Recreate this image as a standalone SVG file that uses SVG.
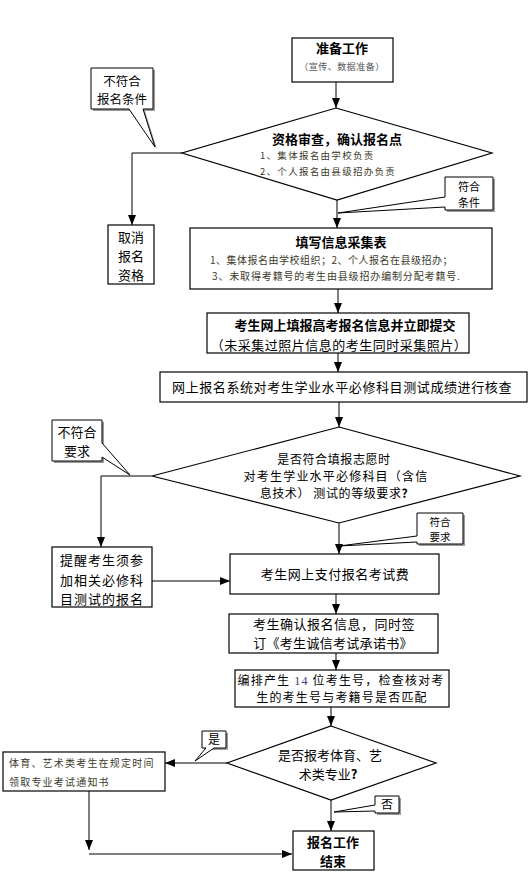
<svg xmlns="http://www.w3.org/2000/svg" width="530" height="876" viewBox="0 0 530 876">
<defs>
<marker id="ah" markerWidth="10" markerHeight="8" refX="10" refY="4" orient="auto" markerUnits="userSpaceOnUse">
<path d="M0,0 L10,4 L0,8 Z" fill="#000"/>
</marker>
<style>
.box{fill:#fff;stroke:#000;stroke-width:1.2}
.co{fill:#fff;stroke:#000;stroke-width:1}
.sh{fill:#9a9a9a;stroke:none}
.ln{fill:none;stroke:#000;stroke-width:1}
.t{font-family:"Noto Sans CJK SC","Liberation Sans",sans-serif;font-size:13px;fill:#000;text-anchor:middle}
.b{font-weight:bold}
.s{font-family:"Noto Sans CJK SC","Liberation Sans",sans-serif;font-size:9.5px;fill:#3a3a2a;letter-spacing:1.3px}
.c{font-size:11px}
</style>
</defs>
<rect width="530" height="876" fill="#fff"/>

<g id="connectors">
<line class="ln" x1="336" y1="82" x2="336" y2="108" marker-end="url(#ah)"/>
<polyline class="ln" points="182,153 132,153 132,225" marker-end="url(#ah)"/>
<line class="ln" x1="337" y1="200" x2="337" y2="228" marker-end="url(#ah)"/>
<line class="ln" x1="338" y1="289" x2="338" y2="313" marker-end="url(#ah)"/>
<line class="ln" x1="338" y1="353" x2="338" y2="372" marker-end="url(#ah)"/>
<line class="ln" x1="339" y1="402" x2="339" y2="427" marker-end="url(#ah)"/>
<polyline class="ln" points="152,476 101,476 101,547" marker-end="url(#ah)"/>
<line class="ln" x1="339" y1="523" x2="339" y2="554" marker-end="url(#ah)"/>
<line class="ln" x1="152" y1="581" x2="230" y2="581" marker-end="url(#ah)"/>
<line class="ln" x1="336" y1="594" x2="336" y2="614" marker-end="url(#ah)"/>
<line class="ln" x1="336" y1="653" x2="336" y2="670" marker-end="url(#ah)"/>
<line class="ln" x1="331" y1="707" x2="331" y2="726" marker-end="url(#ah)"/>
<line class="ln" x1="227" y1="763" x2="165" y2="763" marker-end="url(#ah)"/>
<line class="ln" x1="89" y1="791" x2="89" y2="850" marker-end="url(#ah)"/>
<line class="ln" x1="89" y1="854" x2="292" y2="854" marker-end="url(#ah)"/>
<line class="ln" x1="331" y1="800" x2="331" y2="831" marker-end="url(#ah)"/>
</g>

<g id="n-start">
<rect class="box" x="292" y="38" width="101" height="44"/>
<text class="t b" x="342" y="53">准备工作</text>
<text class="s" x="342" y="70" style="text-anchor:middle;fill:#555;letter-spacing:0.5px;font-size:9px">（宣传、数据准备）</text>
</g>

<g id="n-d1">
<polygon class="box" points="336,108 492,153 337,200 182,153"/>
<text class="t b" x="337" y="143.5">资格审查，确认报名点</text>
<text class="s" x="260" y="159">1、集体报名由学校负责</text>
<text class="s" x="260" y="175">2、个人报名由县级招办负责</text>
</g>

<g id="c-nofit1">
<path class="sh" d="M93,70 H155 V111 H145 L157,149 L131,111 H93 Z"/>
<path class="co" d="M91,68 H153 V109 H143 L155,147 L129,109 H91 Z"/>
<text class="t" x="122" y="86" style="font-size:12.5px">不符合</text>
<text class="t" x="122" y="104" style="font-size:12.5px">报名条件</text>
</g>

<g id="n-cancel">
<rect class="box" x="108" y="225" width="46" height="59"/>
<text class="t" x="131" y="242">取消</text>
<text class="t" x="131" y="261">报名</text>
<text class="t" x="131" y="280">资格</text>
</g>

<g id="c-fit1">
<path class="sh" d="M447,179 H495 V212 H447 Z"/>
<path class="co" d="M445,177 H493 V210 H445 V207 L338,213 L445,197 Z"/>
<text class="t c" x="469" y="191">符合</text>
<text class="t c" x="469" y="207">条件</text>
</g>

<g id="n-form">
<rect class="box" x="190" y="228" width="302" height="61"/>
<text class="t b" x="341" y="247">填写信息采集表</text>
<text class="s" x="210" y="264" style="font-size:10px;letter-spacing:0.5px">1、集体报名由学校组织；2、个人报名在县级招办；</text>
<text class="s" x="212" y="280" style="font-size:10px;letter-spacing:0.85px">3、未取得考籍号的考生由县级招办编制分配考籍号.</text>
</g>

<g id="n-online">
<rect class="box" x="207" y="313" width="262" height="40"/>
<text class="t b" x="345" y="330">考生网上填报高考报名信息并立即提交</text>
<text class="t" x="339" y="349.5" style="letter-spacing:0.5px">（未采集过照片信息的考生同时采集照片）</text>
</g>

<g id="n-check">
<rect class="box" x="160" y="372" width="367" height="30"/>
<text class="t" x="342" y="392" style="letter-spacing:0.6px">网上报名系统对考生学业水平必修科目测试成绩进行核查</text>
</g>

<g id="n-d2">
<polygon class="box" points="339,427 520,476 339,523 152,476"/>
<text class="t" x="334" y="464" style="font-size:12px;letter-spacing:0.6px">是否符合填报志愿时</text>
<text class="t" x="336" y="481" style="font-size:12px;letter-spacing:1.2px">对考生学业水平必修科目（含信</text>
<text class="t" x="334" y="498" style="font-size:12px;letter-spacing:0.6px">息技术） 测试的等级要求<tspan class="b">?</tspan></text>
</g>

<g id="c-nofit2">
<path class="sh" d="M54,422 H104 V463 H54 Z"/>
<path class="co" d="M52,420 H102 V443 L130,475 L102,457 V461 H52 Z"/>
<text class="t" x="77" y="437">不符合</text>
<text class="t" x="77" y="456">要求</text>
</g>

<g id="c-fit2">
<path class="sh" d="M419,515 H465 V546 H419 Z"/>
<path class="co" d="M417,513 H463 V544 H417 V542 L339,546 L417,536 Z"/>
<text class="t" x="440" y="526" style="font-size:10.5px">符合</text>
<text class="t" x="440" y="541" style="font-size:10.5px">要求</text>
</g>

<g id="n-remind">
<rect class="box" x="52" y="547" width="100" height="60"/>
<text class="t" x="102" y="565" style="letter-spacing:1px">提醒考生须参</text>
<text class="t" x="102" y="585" style="letter-spacing:1px">加相关必修科</text>
<text class="t" x="102" y="604" style="letter-spacing:1px">目测试的报名</text>
</g>

<g id="n-pay">
<rect class="box" x="230" y="554" width="209" height="40"/>
<text class="t" x="335" y="579" style="letter-spacing:0.5px">考生网上支付报名考试费</text>
</g>

<g id="n-confirm">
<rect class="box" x="229" y="614" width="209" height="39"/>
<text class="t" x="334" y="629" style="letter-spacing:0.5px">考生确认报名信息，同时签</text>
<text class="t" x="333" y="648" style="letter-spacing:0.3px">订《考生诚信考试承诺书》</text>
</g>

<g id="n-number">
<rect class="box" x="235" y="670" width="214" height="37"/>
<text class="t" x="341" y="684.5" style="font-size:12px;letter-spacing:1.2px">编排产生 <tspan style="font-family:'Liberation Serif',serif;fill:#3a3a7a">14</tspan> 位考生号，检查核对考</text>
<text class="t" x="342" y="702" style="font-size:12px;letter-spacing:1.2px">生的考生号与考籍号是否匹配</text>
</g>

<g id="n-d3">
<polygon class="box" points="331,726 436,763 331,800 227,763"/>
<text class="t" x="330" y="760">是否报考体育、艺</text>
<text class="t" x="328" y="779">术类专业<tspan class="b">?</tspan></text>
</g>

<g id="c-yes">
<path class="sh" d="M204,733 H228 V750 H204 Z"/>
<path class="co" d="M202,731 H226 V748 H214 L195,761 L206,748 H202 Z"/>
<text class="t" x="214" y="744" style="font-size:12px">是</text>
</g>

<g id="n-sport">
<rect class="box" x="3" y="752" width="162" height="39"/>
<text class="s" x="9" y="767" style="font-size:10px;letter-spacing:1.2px">体育、艺术类考生在规定时间</text>
<text class="s" x="9" y="786" style="font-size:10px;letter-spacing:1.2px">领取专业考试通知书</text>
</g>

<g id="c-no">
<path class="sh" d="M377,798 H401 V815 H377 Z"/>
<path class="co" d="M375,796 H399 V813 H375 V811 L334,812 L375,805 Z"/>
<text class="t" x="387" y="809" style="font-size:12px">否</text>
</g>

<g id="n-end">
<rect class="box" x="293" y="831" width="81" height="39"/>
<text class="t b" x="333" y="847">报名工作</text>
<text class="t b" x="333" y="866">结束</text>
</g>
</svg>
